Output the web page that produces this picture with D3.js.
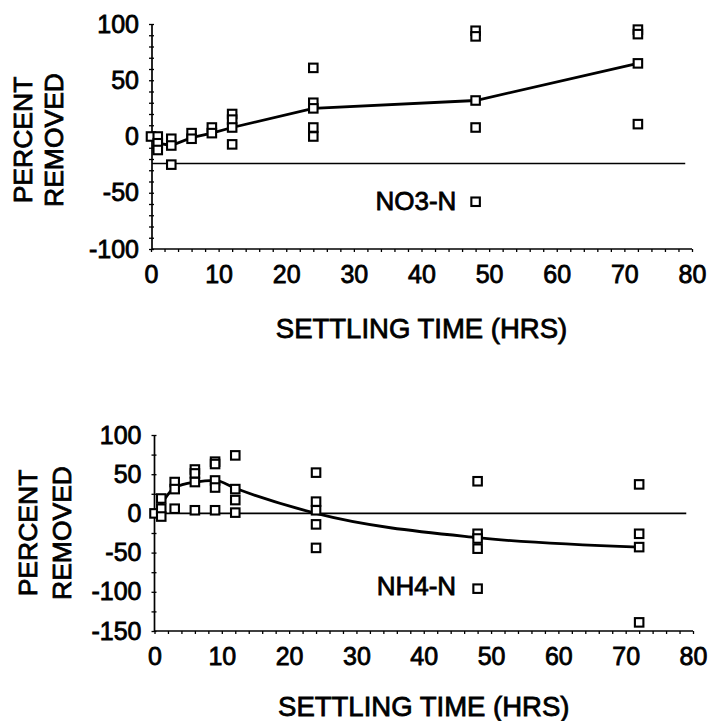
<!DOCTYPE html>
<html>
<head>
<meta charset="utf-8">
<script src="https://cdn.jsdelivr.net/npm/d3@7"></script>
<style>
  body { margin: 0; background: #fff; }
  text { font-family: "Liberation Sans", Arial, Helvetica, sans-serif; fill: #000; }
</style>
</head>
<body>
<svg id="chart" width="713" height="721"></svg>
<script>
// Settling times (hours) at which samples were taken
const hours = [0, 1, 3, 6, 9, 12, 24, 48, 72];

// NO3-N percent removed: individual readings per settling time, and the mean curve
const no3Readings = [
  [0], [0, -6, -12], [-2, -8, -25], [3, -2], [8, 3],
  [20, 15, 8, -7], [61, 30, 25, 8, 0], [94, 89, 32, 8, -58], [95, 91, 65, 11]
];
const no3Mean = [0, -6, -8, -1, 3, 8, 25, 32, 65];

// NH4-N percent removed
const nh4Readings = [
  [0], [19, 6, -4], [40, 31, 6], [56, 51, 40, 4], [66, 63, 42, 33, 4],
  [74, 31, 17, 1], [52, 15, 4, -14, -44], [41, -26, -32, -45, -96], [37, -26, -43, -139]
];
const nh4Mean = [0, 12, 33, 40, 42, 32, 0, -31, -43];

// Tick labels
const xTickLabels = [0, 10, 20, 30, 40, 50, 60, 70, 80];
const no3YTickLabels = [-100, -50, 0, 50, 100];
const nh4YTickLabels = [-150, -100, -50, 0, 50, 100];

const panels = [
  {
    name: "NO3-N", readings: no3Readings, mean: no3Mean, curve: d3.curveLinear,
    yDomain: [-100, 100], yTicks: no3YTickLabels, yMinorStep: 10, refValue: -24,
    x0: 151, x1: 692, yTop: 24, yBottom: 249, axisX: 152,
    label: { x: 33.2, y: -65 }, titleY: 328,
    yTitle: { cx1: 23, cx2: 54, cy: 140 }
  },
  {
    name: "NH4-N", readings: nh4Readings, mean: nh4Mean, curve: d3.curveMonotoneX,
    yDomain: [-150, 100], yTicks: nh4YTickLabels, yMinorStep: 25, refValue: 0,
    x0: 154.5, x1: 693, yTop: 435, yBottom: 631, axisX: 154.5,
    label: { x: 33, y: -104 }, titleY: 706,
    yTitle: { cx1: 28, cx2: 62, cy: 533 }
  }
];

const svg = d3.select("#chart");
svg.append("rect").attr("width", 713).attr("height", 721).attr("fill", "#fff");

const FONT_TICK = 25, FONT_LABEL = 26, FONT_YTITLE = 26.5, FONT_XTITLE = 27.5, TEXT_STROKE = 0.8;
const fmt = d => String(d); // plain hyphen for negatives

panels.forEach(p => {
  const g = svg.append("g");
  const x = d3.scaleLinear().domain([0, 80]).range([p.x0, p.x1]);
  const y = d3.scaleLinear().domain(p.yDomain).range([p.yBottom, p.yTop]);

  // minor ticks on y axis
  const yMinor = d3.range(p.yDomain[0], p.yDomain[1] + 0.001, p.yMinorStep);
  const yAxisG = g.append("g").attr("transform", `translate(${p.axisX},0)`)
    .call(d3.axisLeft(y).tickValues(yMinor).tickSize(3).tickFormat(""));
  yAxisG.select(".domain").remove();
  yAxisG.selectAll("line").attr("stroke", "#000").attr("stroke-width", 1.3).attr("x2", -3).attr("x1", 2);

  const yLab = g.append("g").attr("transform", `translate(${p.axisX},0)`)
    .call(d3.axisLeft(y).tickValues(p.yTicks).tickSize(0).tickPadding(13).tickFormat(fmt));
  yLab.select(".domain").remove();
  yLab.selectAll("text").style("font-size", FONT_TICK + "px")
    .attr("stroke", "#000").attr("stroke-width", TEXT_STROKE);

  // minor ticks on x axis
  const xMinor = d3.range(0, 80.001, 2);
  const xAxisG = g.append("g").attr("transform", `translate(0,${p.yBottom})`)
    .call(d3.axisBottom(x).tickValues(xMinor).tickSize(3).tickFormat(""));
  xAxisG.select(".domain").remove();
  xAxisG.selectAll("line").attr("stroke", "#000").attr("stroke-width", 1.3);

  const xLab = g.append("g").attr("transform", `translate(0,${p.yBottom})`)
    .call(d3.axisBottom(x).tickValues(xTickLabels).tickSize(0).tickPadding(16).tickFormat(fmt));
  xLab.select(".domain").remove();
  xLab.selectAll("text").style("font-size", FONT_TICK + "px")
    .attr("stroke", "#000").attr("stroke-width", TEXT_STROKE);

  // axis lines
  g.append("line").attr("x1", p.axisX).attr("x2", p.axisX).attr("y1", p.yTop).attr("y2", p.yBottom)
    .attr("stroke", "#000").attr("stroke-width", 1.7);
  g.append("line").attr("x1", p.axisX).attr("x2", x(80)).attr("y1", p.yBottom).attr("y2", p.yBottom)
    .attr("stroke", "#000").attr("stroke-width", 1.7);

  // horizontal reference line
  g.append("line").attr("x1", p.axisX).attr("x2", x(79)).attr("y1", y(p.refValue)).attr("y2", y(p.refValue))
    .attr("stroke", "#000").attr("stroke-width", 1.7);

  // mean curve
  const meanPts = hours.map((h, i) => [h, p.mean[i]]);
  g.append("path").datum(meanPts)
    .attr("d", d3.line().x(d => x(d[0])).y(d => y(d[1])).curve(p.curve))
    .attr("fill", "none").attr("stroke", "#000").attr("stroke-width", 2.8);

  // individual readings as open squares
  const pts = [];
  hours.forEach((h, i) => p.readings[i].forEach(v => pts.push([h, v])));
  const s = 8.5;
  g.selectAll("rect.pt").data(pts).join("rect").attr("class", "pt")
    .attr("x", d => x(d[0]) - s / 2).attr("y", d => y(d[1]) - s / 2)
    .attr("width", s).attr("height", s)
    .attr("fill", "#fff").attr("stroke", "#000").attr("stroke-width", 2.1);

  // series label
  g.append("text").attr("x", x(p.label.x)).attr("y", y(p.label.y))
    .style("font-size", FONT_LABEL + "px").attr("stroke", "#000").attr("stroke-width", TEXT_STROKE)
    .text(p.name);

  // axis titles
  g.append("text").attr("x", (p.x0 + p.x1) / 2).attr("y", p.titleY)
    .attr("text-anchor", "middle").attr("dominant-baseline", "central")
    .style("font-size", FONT_XTITLE + "px").attr("stroke", "#000").attr("stroke-width", TEXT_STROKE)
    .text("SETTLING TIME (HRS)");
  [["PERCENT", p.yTitle.cx1], ["REMOVED", p.yTitle.cx2]].forEach(([t, cx]) => {
    g.append("text").attr("transform", `translate(${cx},${p.yTitle.cy}) rotate(-90)`)
      .attr("text-anchor", "middle").attr("dominant-baseline", "central")
      .style("font-size", FONT_YTITLE + "px").attr("stroke", "#000").attr("stroke-width", TEXT_STROKE)
      .text(t);
  });
});
</script>
</body>
</html>
